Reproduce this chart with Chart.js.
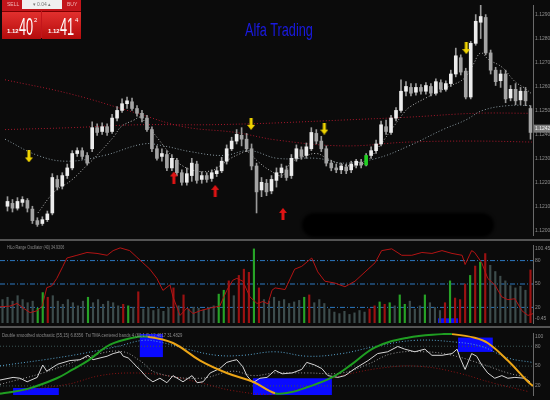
<!DOCTYPE html>
<html>
<head>
<meta charset="utf-8">
<script src="https://cdn.jsdelivr.net/npm/chart.js@4.4.1/dist/chart.umd.min.js"></script>
<style>
  html, body { margin:0; padding:0; background:#0b0b0b; }
  #wrap { position:relative; width:550px; height:400px; overflow:hidden; background:#0b0b0b;
          font-family:'Liberation Sans',Arial,sans-serif; }
  canvas { position:absolute; left:0; }
  .sep { position:absolute; left:0; width:550px; height:2px; background:#545454; }
  .lbl { position:absolute; color:#8a8a8a; font-size:5px; white-space:nowrap; transform-origin:left top; }
  #title { position:absolute; left:245px; top:19px; color:#1a1ae2; font-size:19px; white-space:nowrap;
           transform:scaleX(0.67); transform-origin:left top; }
  #smudge { position:absolute; left:302px; top:213px; width:192px; height:24px; background:#000;
            border-radius:12px; filter:blur(1.5px); }
  #tk { position:absolute; left:2px; top:0; width:79px; height:38px; background:#c3151b; }
  #tk .s { position:absolute; top:1px; font-size:5px; color:#f2b8b8; }
  #lot { position:absolute; left:20px; top:0; width:40px; height:9px; background:#f0f0f0;
         font-size:5px; color:#777; text-align:center; line-height:9px; }
  .btn { position:absolute; top:11px; width:39px; height:27px;
         background:linear-gradient(#e2302e,#b50c0c); border-top:1px solid #7a0000; }
  .btn .a { position:absolute; left:5px; top:16px; font-size:6px; font-weight:bold; color:#fff; }
  .btn .b { position:absolute; left:17px; top:3px; font-size:24px; line-height:24px; color:#fff;
            transform:scaleX(0.53); transform-origin:left top; }
  .btn .c { position:absolute; left:32px; top:5px; font-size:6px; color:#fff; }
</style>
</head>
<body>
<div id="wrap">
  <canvas id="main" width="550" height="240" style="top:0"></canvas>
  <canvas id="osc" width="550" height="88" style="top:240px"></canvas>
  <canvas id="sto" width="550" height="72" style="top:328px"></canvas>
  <div class="sep" style="top:239px"></div>
  <div class="sep" style="top:326px"></div>
  <div id="smudge"></div>
  <div id="title">Alfa Trading</div>
  <div class="lbl" style="left:7px;top:244px;transform:scaleX(0.73)">HiLo Range Oscillator (40) 34.9306</div>
  <div class="lbl" style="left:2px;top:332px;transform:scaleX(0.84)">Double smoothed stochastic (55,15) 6.8356 &nbsp;Tsi TMA centered bands 4 (60,1.0) 12.4617 31.4829</div>
  <div id="tk">
    <div class="s" style="left:5px">SELL</div>
    <div id="lot">&#9662; 0.04 &#9652;</div>
    <div class="s" style="left:65px">BUY</div>
    <div class="btn" style="left:0"><span class="a">1.12</span><span class="b">40</span><span class="c">2</span></div>
    <div class="btn" style="left:40px"><span class="a" style="left:6px">1.12</span><span class="b" style="left:18px">41</span><span class="c" style="left:33px">4</span></div>
  </div>
</div>
<script>
var opens = [1.12100,1.12112,1.12092,1.12116,1.12124,1.12088,1.12040,1.12028,1.12044,1.12072,
  1.12212,1.12184,1.12228,1.12260,1.12320,1.12332,1.12312,1.12340,1.12428,1.12412,
  1.12432,1.12412,1.12468,1.12500,1.12528,1.12536,1.12508,1.12488,1.12468,1.12420,
  1.12340,1.12308,1.12316,1.12260,1.12292,1.12240,1.12200,1.12228,1.12276,1.12212,
  1.12228,1.12216,1.12236,1.12248,1.12288,1.12340,1.12372,1.12396,1.12380,1.12340,
  1.12268,1.12168,1.12196,1.12164,1.12208,1.12240,1.12252,1.12228,1.12300,1.12336,
  1.12312,1.12340,1.12404,1.12372,1.12340,1.12280,1.12260,1.12252,1.12264,1.12252,
  1.12272,1.12284,1.12272,1.12312,1.12332,1.12360,1.12432,1.12408,1.12468,1.12500,
  1.12580,1.12596,1.12576,1.12596,1.12580,1.12600,1.12572,1.12616,1.12588,1.12612,
  1.12652,1.12720,1.12664,1.12556,1.12780,1.12868,1.12888,1.12740,1.12668,1.12624,
  1.12652,1.12552,1.12588,1.12544,1.12580,1.12508];
var closes = [1.12120,1.12092,1.12120,1.12128,1.12092,1.12040,1.12024,1.12044,1.12068,1.12220,
  1.12180,1.12228,1.12260,1.12320,1.12332,1.12308,1.12280,1.12428,1.12408,1.12432,
  1.12408,1.12468,1.12500,1.12528,1.12540,1.12508,1.12488,1.12468,1.12420,1.12340,
  1.12300,1.12320,1.12260,1.12300,1.12240,1.12200,1.12236,1.12280,1.12208,1.12228,
  1.12212,1.12240,1.12248,1.12288,1.12340,1.12372,1.12400,1.12380,1.12340,1.12268,
  1.12160,1.12200,1.12160,1.12212,1.12240,1.12260,1.12220,1.12300,1.12340,1.12308,
  1.12348,1.12408,1.12372,1.12340,1.12280,1.12260,1.12252,1.12268,1.12248,1.12276,
  1.12288,1.12272,1.12312,1.12332,1.12360,1.12440,1.12412,1.12468,1.12500,1.12580,
  1.12600,1.12572,1.12596,1.12580,1.12604,1.12572,1.12620,1.12588,1.12612,1.12652,
  1.12728,1.12660,1.12556,1.12780,1.12872,1.12892,1.12740,1.12668,1.12620,1.12652,
  1.12548,1.12588,1.12540,1.12580,1.12540,1.12408];
var highs = [1.12140,1.12128,1.12136,1.12140,1.12132,1.12100,1.12052,1.12056,1.12080,1.12236,
  1.12228,1.12240,1.12276,1.12332,1.12344,1.12344,1.12324,1.12452,1.12444,1.12448,
  1.12444,1.12484,1.12516,1.12548,1.12556,1.12552,1.12520,1.12500,1.12480,1.12432,
  1.12352,1.12340,1.12332,1.12316,1.12300,1.12252,1.12260,1.12300,1.12288,1.12244,
  1.12240,1.12252,1.12264,1.12304,1.12356,1.12388,1.12420,1.12428,1.12404,1.12360,
  1.12280,1.12220,1.12212,1.12228,1.12260,1.12276,1.12268,1.12316,1.12356,1.12348,
  1.12364,1.12428,1.12420,1.12392,1.12352,1.12292,1.12276,1.12280,1.12276,1.12288,
  1.12296,1.12296,1.12320,1.12348,1.12376,1.12456,1.12460,1.12480,1.12512,1.12628,
  1.12620,1.12612,1.12612,1.12608,1.12616,1.12612,1.12632,1.12628,1.12624,1.12668,
  1.12760,1.12732,1.12676,1.12788,1.12900,1.12940,1.12900,1.12752,1.12680,1.12668,
  1.12668,1.12604,1.12612,1.12596,1.12596,1.12520];
var lows = [1.12080,1.12076,1.12084,1.12100,1.12076,1.12028,1.12016,1.12020,1.12036,1.12064,
  1.12168,1.12172,1.12216,1.12252,1.12308,1.12296,1.12272,1.12328,1.12396,1.12400,
  1.12396,1.12404,1.12456,1.12492,1.12508,1.12500,1.12476,1.12452,1.12412,1.12328,
  1.12292,1.12288,1.12248,1.12248,1.12228,1.12188,1.12188,1.12204,1.12196,1.12196,
  1.12200,1.12204,1.12224,1.12240,1.12276,1.12332,1.12360,1.12352,1.12328,1.12252,
  1.12072,1.12140,1.12144,1.12152,1.12180,1.12220,1.12208,1.12216,1.12288,1.12296,
  1.12300,1.12332,1.12360,1.12328,1.12268,1.12248,1.12240,1.12236,1.12236,1.12240,
  1.12260,1.12260,1.12268,1.12300,1.12320,1.12352,1.12400,1.12400,1.12456,1.12492,
  1.12560,1.12560,1.12564,1.12568,1.12568,1.12560,1.12564,1.12576,1.12580,1.12600,
  1.12640,1.12648,1.12548,1.12548,1.12772,1.12800,1.12732,1.12652,1.12604,1.12596,
  1.12532,1.12540,1.12524,1.12524,1.12520,1.12380];
var signalBar = 72;       // bougie verte
var lastPrice = 1.12424;  // étiquette sur l'axe
var priceTicks = [1.1290,1.1280,1.1270,1.1260,1.1250,1.1240,1.1230,1.1220,1.1210,1.1200];

// moyennes mobiles [index, prix]
var maFast = [[6.1,1.12072],[9.4,1.12160],[12.8,1.12208],[16.0,1.12272],[17.4,1.12300],[21.4,1.12392],
  [22.8,1.12432],[25.4,1.12460],[26.7,1.12472],[27.7,1.12448],[30.3,1.12380],[32.9,1.12312],
  [34.9,1.12272],[37.7,1.12248],[40.9,1.12248],[42.9,1.12272],[44.8,1.12300],[46.8,1.12320],
  [48.2,1.12328],[50.2,1.12288],[52.8,1.12248],[55.2,1.12228],[56.8,1.12280],[59.6,1.12308],
  [62.1,1.12320],[64.1,1.12300],[67.5,1.12272],[70.7,1.12272],[72.7,1.12300],[74.7,1.12352],
  [77.5,1.12432],[79.5,1.12488],[80.6,1.12512],[84.0,1.12552],[88.6,1.12600],[91.6,1.12632],
  [93.4,1.12688],[95.0,1.12740],[96.6,1.12712],[99.3,1.12680],[101.9,1.12620],[103.9,1.12592],[105.3,1.12568]];
var maSlow = [[-0.5,1.12380],[6.1,1.12312],[12.0,1.12288],[19.4,1.12312],[27.3,1.12360],[31.3,1.12352],
  [36.7,1.12328],[43.3,1.12312],[48.6,1.12332],[54.2,1.12300],[62.1,1.12300],[67.5,1.12280],
  [74.1,1.12300],[80.6,1.12352],[87.4,1.12420],[92.0,1.12460],[95.4,1.12500],[100.5,1.12520],[105.3,1.12520]];
var maRed1 = [[-0.5,1.12628],[12.8,1.12568],[26.0,1.12488],[35.3,1.12432],[45.8,1.12408],[54.2,1.12376],
  [67.5,1.12352],[80.6,1.12368],[94.0,1.12372],[105.3,1.12368]];
var maRed2 = [[-0.5,1.12420],[12.8,1.12428],[26.0,1.12440],[39.3,1.12440],[48.6,1.12444],[54.2,1.12448],
  [67.5,1.12460],[80.6,1.12472],[94.0,1.12488],[105.3,1.12488]];
var sellArrows = [[4.3,1.12308],[48.9,1.12444],[63.6,1.12424],[92.1,1.12760]];
var buyArrows = [[33.4,1.12220],[41.7,1.12164],[55.3,1.12068]];

// HiLo range oscillator
var hist = [30,33,28,35,30,26,28,19,39,33, 35,28,24,30,26,22,28,33,26,30,
  24,28,26,22,24,22,20,40,18,20, 16,18,15,20,45,22,36,18,20,19,
  17,20,22,37,42,54,35,61,69,65, 95,45,30,28,33,28,30,25,27,29,
  33,36,26,30,25,18,14,12,15,11, 13,16,14,18,22,27,24,26,22,36,
  24,28,18,22,36,26,20,16,26,54, 32,30,50,61,73,78,89,74,66,60,
  54,48,45,47,42,68];
var histState = 'nnnnnnnggr' + 'nnnnnnngnn' + 'nnnnrgnrnn' + 'nnnnrnrnnn' + 'nnnggrnrrr' +
  'grnnnnnnnn' + 'grnnnnnnnn' + 'nnnrrgrgng' + 'gnnngnnnrg' + 'rrrgrgrnnn' + 'nnnnnr';
var oscLine = [[-0.5,20.8],[1.5,21.6],[2.9,25.1],[4.1,19.2],[5.5,13.3],[6.9,15.7],[7.9,21.6],[8.8,45.3],
  [9.8,47.7],[10.8,57.2],[12,72.6],[12.8,83.3],[14.8,86.8],[16.8,90.4],[18.8,89.2],[20.8,86.8],
  [22,92.8],[23.4,96.3],[25.3,92.8],[26.7,84.5],[27.9,77.3],[29.3,69],[30.7,57.2],[31.9,41.8],
  [33.3,48.9],[33.9,33.5],[35.3,9.7],[36.7,19.2],[37.9,12.1],[39.3,15.7],[41.3,19.2],[43.2,21.6],
  [44.6,41.8],[45.8,54.8],[46.6,57.2],[47.8,53.6],[49.2,33.5],[50.6,25.1],[51.8,27.5],[52.8,24.6],
  [53.6,42],[54.2,45],[56.2,42.9],[58.1,69],[59.5,72.6],[61.5,83.3],[62.7,65.5],[64.1,53.6],
  [66.1,51.2],[68.1,46.5],[70.1,53.6],[72.1,65.5],[74.1,77.3],[75.4,92.8],[77.4,95.1],[79.4,86.8],
  [81.4,86.8],[83.4,90.4],[85.4,89.2],[87.4,92.8],[89.4,89.2],[91.4,86.8],[92,75],[93.3,92.8],
  [93.9,90.4],[95.3,77.3],[96.5,57.2],[97.9,48.9],[99.3,33.5],[100.5,29.9],[101.9,31.1],
  [103.3,15.7],[104.5,9.7],[105.5,12]];
var oscLevels = [80, 50, 20];
var oscBoxes = [{x0:86.6, x1:90.6, y0:6, y1:0}];

// double smoothed stochastic + bandes TMA
var stochSmooth = [[-0.5,8],[5,15.6],[10.8,31.6],[14,45],[17,58.3],[21.4,82.3],[25.9,92.9],[28.9,94.3],
  [33.9,84.9],[39.3,58.3],[44.6,39.6],[49.8,26.3],[54.2,9],[57,10],[60.7,18.3],[65.5,32.9],
  [69.5,52.9],[74.1,78.3],[80.6,92.9],[87.4,98.3],[89.4,98.3],[93.9,92.9],[96.5,84.9],
  [100.5,58.3],[104.5,26.3],[105.5,20]];
var stochMain = [[-0.5,28.9],[2.1,32.9],[3.5,31.6],[4.9,26.3],[6.9,32.9],[8,51.6],[8.8,42.3],[11,52.9],
  [13.4,58.3],[15.4,59.6],[17,66.3],[18,59.6],[19.4,62.3],[20.8,64.9],[22,68.9],[23.4,71.6],
  [24,64.9],[25,62.3],[25.9,55.6],[26.7,48.9],[27.3,44.9],[28.7,32.9],[29.9,26.3],[31.3,31.6],
  [32.7,24.9],[33.9,35.6],[35.9,26.3],[37.7,35.6],[38.7,24.9],[39.9,26.3],[41.3,39.6],[43.2,46.3],
  [44.6,55.6],[45.8,58.3],[46.6,59.6],[47.8,48.9],[48.6,35.6],[49.8,24.9],[51.2,31.6],[52.6,32.9],
  [54.2,43.6],[55.6,38.3],[57.6,39.6],[59.5,44.9],[60.5,55.6],[62.1,51.6],[63.5,46.3],[64.7,35.6],
  [66.7,32.9],[68.1,35.6],[70.1,46.3],[72.7,58.3],[74.6,68.9],[76.6,71.6],[78.6,79.6],[80,75.6],
  [82,71.6],[84,75.6],[85.4,66.3],[87.4,66.3],[89.4,68.9],[90.4,75.6],[91,62.3],[92,44.9],
  [93.3,68.9],[94.3,64.9],[95.3,51.6],[96.5,39.6],[97.9,31.6],[99.3,35.6],[100.5,31.6],
  [101.9,32.9],[103.9,31.6],[104.9,26.3]];
var stochSignal = [[-0.5,22.3],[8,39.6],[19.4,68.9],[24,71.6],[27.3,58.3],[30.7,39.6],[39.3,31.6],
  [45.8,42.3],[49.8,35.6],[54.2,39.6],[60.7,39.6],[67.5,39.6],[72.7,52.9],[77.5,68.9],[84,71.6],
  [89.4,66.3],[95.4,52.9],[100.5,39.6],[104.5,32.9]];
var stochUpper = [[-0.5,50.3],[12.8,64.9],[22.8,79.6],[27.9,88.9],[31.3,86.3],[36.7,75.6],[42.6,66.3],
  [47.8,66.3],[54.2,71.6],[60.7,64.9],[67.5,68.9],[74.1,79.6],[82,88.9],[90,86.3],[95.3,79.6],
  [100.5,62.3],[105.3,55.6]];
var stochLower = [[-0.5,8.9],[12.8,22.3],[19.4,35.6],[25.9,39.6],[32.7,35.6],[39.3,24.9],[45.8,12.9],
  [54.2,7.6],[60.7,19.6],[67.5,35.6],[77.4,48.9],[84,48.9],[90.6,39.6],[97.3,24.9],[104.5,11.6]];
var stochLevels = [80, 50, 20];
var stochBoxes = [{x0:2.1, x1:11.2, y0:16.9, y1:0}, {x0:27.3, x1:31.9, y0:98.5, y1:63.6},
  {x0:49.8, x1:65.5, y0:31.6, y1:0}, {x0:90.6, x1:97.5, y0:93.1, y1:71.4}];

var FONT = "'Liberation Sans',Arial,sans-serif";
Chart.defaults.font.family = FONT;
Chart.defaults.font.size = 5;

function pts(a) { return a.map(function (p) { return {x: p[0], y: p[1]}; }); }
function levelLine(v) { return [{x: -0.5, y: v}, {x: 105.5, y: v}]; }

// flèches des signaux
function arrowImg(color, down) {
  var c = document.createElement('canvas');
  c.width = 8; c.height = 12;
  var g = c.getContext('2d');
  var p = [[4,0],[8,5],[5.5,5],[5.5,12],[2.5,12],[2.5,5],[0,5]];
  g.fillStyle = color;
  g.beginPath();
  p.forEach(function (q, i) {
    var y = down ? 12 - q[1] : q[1];
    if (i === 0) g.moveTo(q[0], y); else g.lineTo(q[0], y);
  });
  g.closePath();
  g.fill();
  return c;
}

// rectangles bleus dessinés via les échelles
var boxPlugin = {
  id: 'boxes',
  beforeDatasetsDraw: function (chart, args, opts) {
    if (!opts.items) return;
    var ctx = chart.ctx, a = chart.chartArea, x = chart.scales.x, y = chart.scales.y;
    ctx.save();
    ctx.beginPath(); ctx.rect(a.left, a.top, a.width, a.height); ctx.clip();
    ctx.fillStyle = '#0a0aff';
    opts.items.forEach(function (b) {
      var x0 = x.getPixelForValue(b.x0), x1 = x.getPixelForValue(b.x1);
      var y0 = y.getPixelForValue(b.y0), y1 = y.getPixelForValue(b.y1);
      ctx.fillRect(Math.min(x0, x1), Math.min(y0, y1), Math.abs(x1 - x0), Math.abs(y1 - y0));
    });
    ctx.restore();
  }
};

var priceTag = {
  id: 'priceTag',
  afterDraw: function (chart) {
    if (chart.canvas.id !== 'main') return;
    var ctx = chart.ctx, py = chart.scales.y.getPixelForValue(lastPrice);
    var left = chart.chartArea.right + 1;
    ctx.save();
    ctx.fillStyle = '#7c7c7c';
    ctx.fillRect(left, py - 4, chart.width - left, 8);
    ctx.fillStyle = '#f2f2f2';
    ctx.font = '5px ' + FONT;
    ctx.textBaseline = 'middle';
    ctx.fillText(lastPrice.toFixed(4), left + 1, py);
    ctx.restore();
  }
};
Chart.register(boxPlugin, priceTag);

function yAxis(min, max, tickVals, fmt) {
  return {
    position: 'right', min: min, max: max,
    grid: {display: false, drawTicks: false},
    border: {display: true, color: '#6a6a6a'},
    ticks: {color: '#8e8e8e', padding: 2, callback: fmt, autoSkip: false},
    afterBuildTicks: function (s) { s.ticks = tickVals.map(function (v) { return {value: v}; }); },
    afterFit: function (s) { s.width = 17; }
  };
}
var xAxis = {type: 'linear', min: -0.5, max: 105.5, display: false, offset: false};
var base = {responsive: false, animation: false, devicePixelRatio: 1,
  plugins: {legend: {display: false}, tooltip: {enabled: false}}};

function dotted(data, color, order) {
  return {type: 'line', data: pts(data), borderColor: color, borderWidth: 1, borderDash: [1, 2],
    pointRadius: 0, tension: 0.4, order: order};
}

// fenêtre principale : bougies
var bodyColors = opens.map(function (o, i) {
  if (i === signalBar) return '#22d022';
  return closes[i] >= o ? '#ececec' : '#a4a4a4';
});

new Chart(document.getElementById('main'), {
  type: 'bar',
  data: {datasets: [
    {type: 'line', data: pts(sellArrows), pointStyle: arrowImg('#f0d400', true), pointRadius: 4, showLine: false, order: 0},
    {type: 'line', data: pts(buyArrows), pointStyle: arrowImg('#e01414', false), pointRadius: 4, showLine: false, order: 0},
    {type: 'bar', data: opens.map(function (o, i) { return {x: i, y: [o, closes[i]]}; }),
      backgroundColor: bodyColors, barThickness: 3, minBarLength: 1, grouped: false, order: 1},
    {type: 'bar', data: lows.map(function (l, i) { return {x: i, y: [l, highs[i]]}; }),
      backgroundColor: '#9a9a9a', barThickness: 1, grouped: false, order: 2},
    dotted(maFast, '#b8b8b8', 3),
    dotted(maSlow, '#8a9aa2', 3),
    dotted(maRed1, '#a8182c', 3),
    dotted(maRed2, '#a8182c', 3)
  ]},
  options: Object.assign({}, base, {
    layout: {padding: 0},
    scales: {x: xAxis, y: yAxis(1.1198, 1.1294, priceTicks, function (v) { return v.toFixed(4); })}
  })
});

// HiLo range oscillator
var histColors = histState.split('').map(function (s) {
  return s === 'g' ? '#27a327' : (s === 'r' ? '#9c1212' : '#3d4c4c');
});
var oscLabels = {95.5: '100.45', 80: '80', 50: '50', 20: '20', 5: '-0.45'};
new Chart(document.getElementById('osc'), {
  type: 'bar',
  data: {datasets: [
    {type: 'line', data: pts(oscLine), borderColor: '#b41414', borderWidth: 1, pointRadius: 0, order: 0}
  ].concat(oscLevels.map(function (v) {
    return {type: 'line', data: levelLine(v), borderColor: '#2c78c0', borderWidth: 1,
      borderDash: [5, 2, 1, 2], pointRadius: 0, order: 2};
  })).concat([
    {type: 'bar', data: hist.map(function (h, i) { return {x: i, y: h}; }),
      backgroundColor: histColors, barThickness: 1.5, grouped: false, order: 1}
  ])},
  options: Object.assign({}, base, {
    layout: {padding: {top: 2, bottom: 2}},
    plugins: {legend: {display: false}, tooltip: {enabled: false}, boxes: {items: oscBoxes}},
    scales: {x: xAxis, y: yAxis(0, 100, [95.5, 80, 50, 20, 5], function (v) { return oscLabels[v]; })}
  })
});

// stochastique
var stoLabels = {95: '100', 80: '80', 50: '50', 20: '20'};
new Chart(document.getElementById('sto'), {
  type: 'line',
  data: {datasets: stochLevels.map(function (v) {
    return {data: levelLine(v), borderColor: '#3c5656', borderWidth: 1, borderDash: [1, 2], pointRadius: 0, order: 5};
  }).concat([
    dotted(stochUpper, '#5aa8d2', 4),
    dotted(stochLower, '#8c1414', 4),
    dotted(stochSignal, '#9c9c9c', 3),
    {data: pts(stochMain), borderColor: '#d6d6d6', borderWidth: 1, pointRadius: 0, order: 2},
    {data: pts(stochSmooth), borderWidth: 2, pointRadius: 0, tension: 0.4, order: 1,
      segment: {borderColor: function (c) { return c.p1.parsed.y >= c.p0.parsed.y ? '#1f9e22' : '#eca516'; }}}
  ])},
  options: Object.assign({}, base, {
    layout: {padding: {top: 2, bottom: 0}},
    plugins: {legend: {display: false}, tooltip: {enabled: false}, boxes: {items: stochBoxes}},
    scales: {x: xAxis, y: yAxis(6.3, 100, [95, 80, 50, 20], function (v) { return stoLabels[v]; })}
  })
});
</script>
</body>
</html>
